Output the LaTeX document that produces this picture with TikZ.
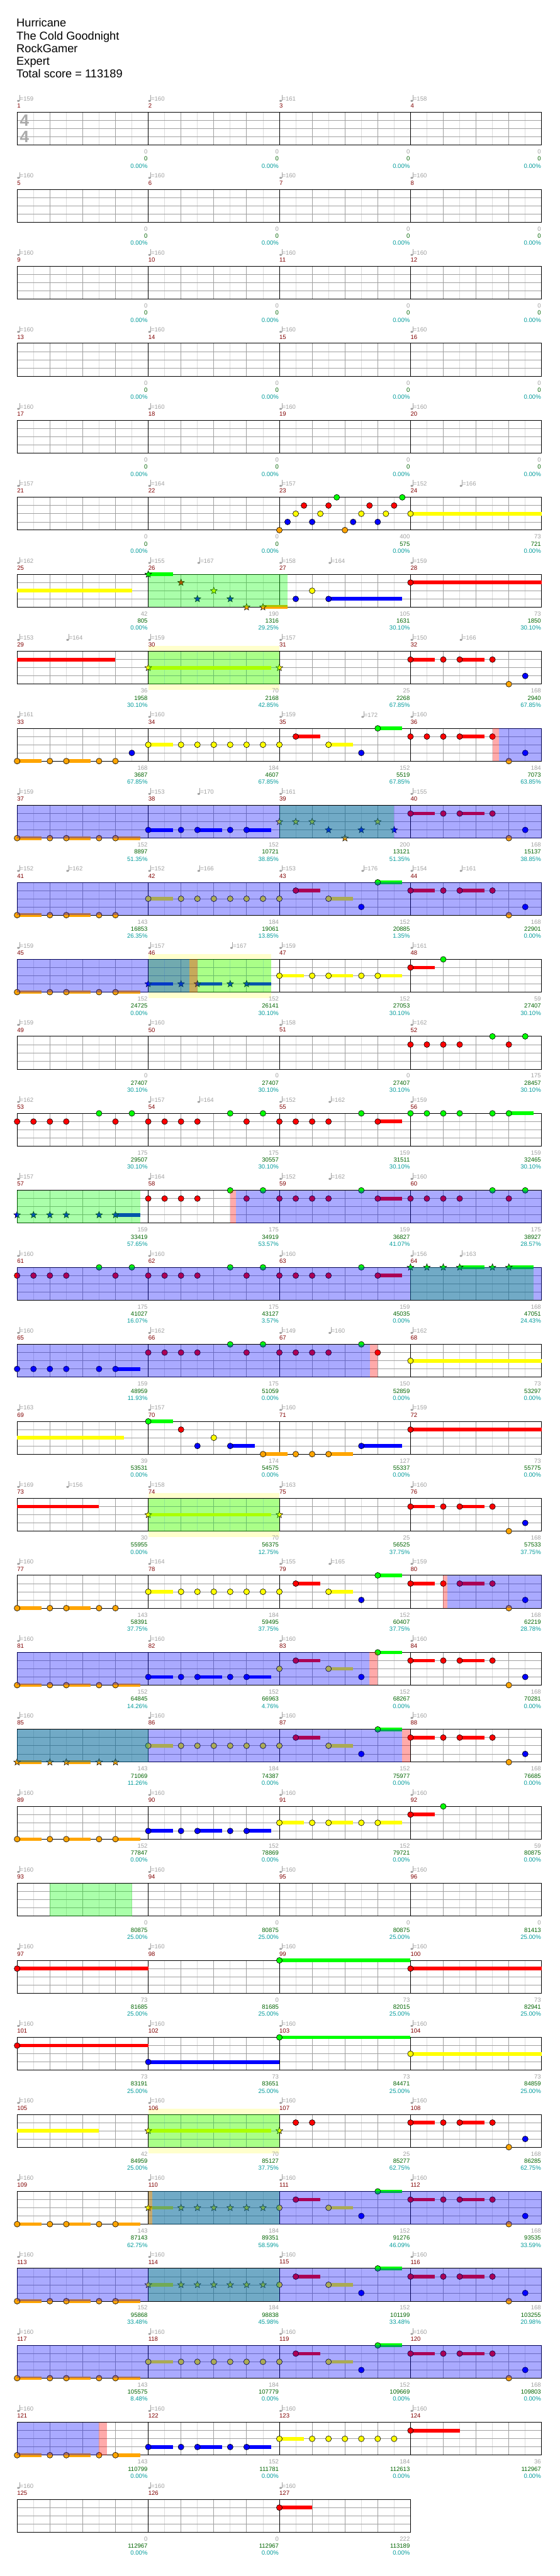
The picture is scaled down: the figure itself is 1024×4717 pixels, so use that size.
\documentclass[tikz,border=0pt]{standalone}
\usepackage{fontspec}
\setmainfont{Liberation Sans}
\usetikzlibrary{shapes.geometric}
\definecolor{lane0}{RGB}{0,255,0}
\definecolor{lane1}{RGB}{255,0,0}
\definecolor{lane2}{RGB}{255,255,0}
\definecolor{lane3}{RGB}{0,0,255}
\definecolor{lane4}{RGB}{255,165,0}
\definecolor{gridd}{RGB}{160,160,160}
\definecolor{gridl}{RGB}{220,220,220}
\definecolor{mnumc}{RGB}{128,0,0}
\definecolor{tempoc}{RGB}{160,160,160}
\definecolor{scorec}{RGB}{0,100,0}
\definecolor{pctc}{RGB}{0,155,155}
\definecolor{bandc}{RGB}{255,255,204}
\definecolor{tsig}{RGB}{170,170,170}
\tikzset{
  labst/.style={font=\fontsize{11}{11}\selectfont,inner sep=0pt,anchor=east},
  notec/.style={draw=black,line width=0.7},
  starn/.style={star,star points=5,star point ratio=2.3,minimum size=13pt,inner sep=0pt,draw=black,line width=0.6},
  titlest/.style={font=\fontsize{21}{21}\selectfont,inner sep=0pt,anchor=base west}
}
\newcommand\MXY[3]{%
  \pgfmathtruncatemacro\mrow{(#1-1)/4}%
  \pgfmathtruncatemacro\mcol{#1-1-4*\mrow}%
  \pgfmathsetmacro\nx{31.3+240*\mcol+15*(#2)}%
  \pgfmathsetmacro\ny{205.7+141*\mrow+15*(#3)}}
\newcommand\nt[3]{\MXY{#1}{#2}{#3}\draw[notec,fill=lane#3] (\nx,\ny) circle[radius=5.3pt];}
\newcommand\st[3]{\MXY{#1}{#2}{#3}\node[starn,fill=lane#3] at (\nx,\ny) {};}
\newcommand\su[4]{\MXY{#1}{#2}{#4}\pgfmathsetmacro\nxx{\nx+15*((#3)-(#2))}\fill[lane#4] (\nx,\ny-3.3) rectangle (\nxx,\ny+3.3);}
\newcommand\ov[4]{\MXY{#2}{#3}{0}\pgfmathsetmacro\nxx{\nx+15*((#4)-(#3))}\fill[#1,fill opacity=0.333] (\nx,\ny) rectangle (\nxx,\ny+60);}
\newcommand\yb[3]{\MXY{#1}{#2}{0}\pgfmathsetmacro\nxx{\nx+15*((#3)-(#2))}\fill[bandc] (\nx,\ny-10) rectangle (\nxx,\ny+71);}
\newcommand\tmark[3]{%
  \fill[tempoc] (#1+2.4,#2-21) ellipse (2.4 and 1.8);
  \draw[tempoc,line width=0.7] (#1+4.4,#2-21) -- (#1+4.4,#2-31.5);
  \node[labst,anchor=west,text=tempoc] at (#1+5,#2-24.7) {=#3};}
\newcommand\tp[3]{\MXY{#1}{#2}{0}\tmark{\nx}{\ny}{#3}}
\newcommand\lab[5]{%
  \MXY{#1}{0}{0}%
  \node[labst,anchor=west,text=mnumc] at (\nx,\ny-11.7) {#1};%
  \tmark{\nx}{\ny}{#2}%
  \pgfmathsetmacro\nxx{\nx+239}%
  \node[labst,text=tempoc] at (\nxx,\ny+72.3) {#3};%
  \node[labst,text=scorec] at (\nxx,\ny+85.3) {#4};%
  \node[labst,text=pctc] at (\nxx,\ny+98.3) {#5};}
% patterns
\newcommand\patA[2]{\su{#1}{0}{3}{#2}\nt{#1}{0}{#2}\nt{#1}{4}{#2}\su{#1}{6}{9}{#2}\nt{#1}{6}{#2}\nt{#1}{10}{#2}\nt{#1}{12}{#2}}
\newcommand\patAs[2]{\su{#1}{0}{3}{#2}\st{#1}{0}{#2}\st{#1}{4}{#2}\su{#1}{6}{9}{#2}\st{#1}{6}{#2}\st{#1}{10}{#2}\st{#1}{12}{#2}}
\newcommand\patB[2]{\su{#1}{0}{3}{#2}\nt{#1}{0}{#2}\nt{#1}{4}{#2}\nt{#1}{6}{#2}\nt{#1}{8}{#2}\nt{#1}{10}{#2}\nt{#1}{12}{#2}\nt{#1}{14}{#2}}
\newcommand\patBs[2]{\su{#1}{0}{3}{#2}\st{#1}{0}{#2}\st{#1}{4}{#2}\st{#1}{6}{#2}\st{#1}{8}{#2}\st{#1}{10}{#2}\st{#1}{12}{#2}\st{#1}{14}{#2}}
\newcommand\patC[1]{\nt{#1}{0}{2}\su{#1}{2}{5}{1}\nt{#1}{2}{1}\su{#1}{6}{9}{2}\nt{#1}{6}{2}\nt{#1}{10}{3}\su{#1}{12}{15}{0}\nt{#1}{12}{0}}
\newcommand\patD[1]{\su{#1}{0}{3}{1}\nt{#1}{0}{1}\nt{#1}{4}{1}\su{#1}{6}{9}{1}\nt{#1}{6}{1}\nt{#1}{10}{1}\nt{#1}{12}{4}\nt{#1}{14}{3}}
\newcommand\patE[1]{\nt{#1}{0}{1}\nt{#1}{2}{1}\nt{#1}{4}{1}\nt{#1}{6}{1}\nt{#1}{10}{0}\nt{#1}{12}{1}\nt{#1}{14}{0}}
\newcommand\patF[1]{\nt{#1}{0}{1}\nt{#1}{2}{1}\nt{#1}{4}{1}\nt{#1}{6}{1}\nt{#1}{10}{0}\su{#1}{12}{15}{1}\nt{#1}{12}{1}}
\begin{document}
\begin{tikzpicture}[x=1pt,y=-1pt]
\fill[white] (0,0) rectangle (1024,4717);
\useasboundingbox (0,0) rectangle (1024,4717);
% title
\node[titlest] (t1) at (30,49.3) {Hurricane};
\node[titlest] (t2) at (30,72.7) {The Cold Goodnight};
\node[titlest] (t3) at (30,96) {RockGamer};
\node[titlest] (t4) at (30,119.3) {Expert};
\node[titlest] (t5) at (30,142.7) {Total score = 113189};
% yellow bands (behind)
\yb{30}{0}{16}\yb{46}{0}{15}\yb{74}{0}{16}\yb{106}{0}{16}
% grid
\foreach \r in {0,...,31}{%
  \pgfmathsetmacro\rowT{205.7+141*\r}%
  \pgfmathtruncatemacro\nseg{\r==31 ? 24 : 32}%
  \pgfmathsetmacro\rowW{30*\nseg}%
  \pgfmathtruncatemacro\nsegm{\nseg-1}%
  \foreach \k in {1,3,...,\nsegm} {\draw[gridl,line width=0.9] (31.3+30*\k,\rowT) -- ++(0,60);}
  \foreach \yy in {15,30,45} {\draw[gridd,line width=0.9] (31.3,\rowT+\yy) -- ++(\rowW,0);}
  \foreach \k in {2,4,...,\nsegm} {\draw[gridd,line width=0.9] (31.3+30*\k,\rowT) -- ++(0,60);}
  \foreach \k in {8,16,24} {\ifnum\k<\nseg\relax\draw[black,line width=0.9] (31.3+30*\k,\rowT) -- ++(0,60);\fi}
  \draw[black,line width=1.1] (31.3,\rowT) rectangle ++(\rowW,60);
}
% time signature
\node[font=\fontsize{30}{30}\selectfont\bfseries,text=tsig,inner sep=0pt] (ts1) at (44.7,220.5) {4};
\node[font=\fontsize{30}{30}\selectfont\bfseries,text=tsig,inner sep=0pt] (ts2) at (44.7,250.2) {4};
% notes
\nt{23}{0}{4}\nt{23}{1}{3}\nt{23}{2}{2}\nt{23}{3}{1}\nt{23}{4}{3}\nt{23}{5}{2}\nt{23}{6}{1}\nt{23}{7}{0}\nt{23}{8}{4}\nt{23}{9}{3}\nt{23}{10}{2}\nt{23}{11}{1}\nt{23}{12}{3}\nt{23}{13}{2}\nt{23}{14}{1}\nt{23}{15}{0}
\su{24}{0}{16}{2}\nt{24}{0}{2}
\su{25}{0}{14}{2}
\su{26}{0}{3}{0}\st{26}{0}{0}\st{26}{4}{1}\st{26}{6}{3}\st{26}{8}{2}\st{26}{10}{3}\st{26}{12}{4}\su{26}{14}{17}{4}\st{26}{14}{4}
\nt{27}{2}{3}\nt{27}{4}{2}\su{27}{6}{15}{3}\nt{27}{6}{3}
\su{28}{0}{16}{1}\nt{28}{0}{1}
\su{29}{0}{12}{1}
\su{30}{0}{15}{2}\st{30}{0}{2}\st{31}{0}{2}
\patD{32}
\patA{33}{4}\nt{33}{14}{3}
\patB{34}{2}
\patC{35}
\nt{36}{0}{1}\nt{36}{2}{1}\nt{36}{4}{1}\su{36}{6}{9}{1}\nt{36}{6}{1}\nt{36}{10}{1}\nt{36}{12}{4}\nt{36}{14}{3}
\su{37}{12}{15}{4}\patA{37}{4}
\su{38}{12}{15}{3}\patA{38}{3}
\st{39}{0}{2}\st{39}{2}{2}\st{39}{4}{2}\st{39}{6}{3}\st{39}{8}{4}\st{39}{10}{3}\st{39}{12}{2}\st{39}{14}{3}
\patD{40}
\patA{41}{4}
\patB{42}{2}
\patC{43}
\patD{44}
\su{45}{12}{15}{4}\patA{45}{4}
\su{46}{0}{3}{3}\st{46}{0}{3}\st{46}{4}{3}\su{46}{6}{9}{3}\st{46}{6}{3}\st{46}{10}{3}\su{46}{12}{15}{3}\st{46}{12}{3}
\su{47}{12}{15}{2}\patA{47}{2}
\su{48}{0}{3}{1}\nt{48}{0}{1}\nt{48}{4}{0}
\patE{52}\patE{53}\patE{54}\patF{55}
\nt{56}{0}{0}\nt{56}{2}{0}\nt{56}{4}{0}\nt{56}{6}{0}\nt{56}{10}{0}\su{56}{12}{15}{0}\nt{56}{12}{0}
\st{57}{0}{3}\st{57}{2}{3}\st{57}{4}{3}\st{57}{6}{3}\st{57}{10}{3}\su{57}{12}{15}{3}\st{57}{12}{3}
\patE{58}\patF{59}\patE{60}\patE{61}\patE{62}\patF{63}
\st{64}{0}{0}\st{64}{2}{0}\st{64}{4}{0}\su{64}{6}{9}{0}\st{64}{6}{0}\st{64}{10}{0}\su{64}{12}{15}{0}\st{64}{12}{0}
\nt{65}{0}{3}\nt{65}{2}{3}\nt{65}{4}{3}\nt{65}{6}{3}\nt{65}{10}{3}\su{65}{12}{15}{3}\nt{65}{12}{3}
\patE{66}
\nt{67}{0}{1}\nt{67}{2}{1}\nt{67}{4}{1}\nt{67}{6}{1}\nt{67}{10}{0}\nt{67}{12}{1}
\su{68}{0}{16}{2}\nt{68}{0}{2}
\su{69}{0}{13}{2}
\su{70}{0}{3}{0}\nt{70}{0}{0}\nt{70}{4}{1}\nt{70}{6}{3}\nt{70}{8}{2}\su{70}{10}{13}{3}\nt{70}{10}{3}\su{70}{14}{17}{4}\nt{70}{14}{4}
\nt{71}{2}{4}\nt{71}{4}{4}\su{71}{6}{9}{4}\nt{71}{6}{4}\su{71}{10}{15}{3}\nt{71}{10}{3}
\su{72}{0}{16}{1}\nt{72}{0}{1}
\su{73}{0}{10}{1}
\su{74}{0}{15}{2}\st{74}{0}{2}\st{75}{0}{2}
\patD{76}\patA{77}{4}\patB{78}{2}\patC{79}\patD{80}
% rows 21-32
\su{81}{12}{15}{4}\patA{81}{4}
\su{82}{12}{15}{3}\patA{82}{3}
\patC{83}\patD{84}
\patAs{85}{4}\patB{86}{2}\patC{87}\patD{88}
\su{89}{12}{15}{4}\patA{89}{4}
\su{90}{12}{15}{3}\patA{90}{3}
\su{91}{12}{15}{2}\patA{91}{2}
\su{92}{0}{3}{1}\nt{92}{0}{1}\nt{92}{4}{0}
\su{97}{0}{16}{1}\nt{97}{0}{1}
\su{99}{0}{16}{0}\nt{99}{0}{0}\su{100}{0}{16}{1}\nt{100}{0}{1}
\su{101}{0}{16}{1}\nt{101}{0}{1}\su{102}{0}{16}{3}\nt{102}{0}{3}\su{103}{0}{16}{0}\nt{103}{0}{0}\su{104}{0}{16}{2}\nt{104}{0}{2}
\su{105}{0}{10}{2}
\su{106}{0}{15}{2}\st{106}{0}{2}\st{107}{0}{2}
\nt{107}{2}{1}\nt{107}{4}{1}
\patD{108}
\su{109}{12}{15}{4}\patA{109}{4}
\patBs{110}{2}\patC{111}\patD{112}
\su{113}{12}{15}{4}\patA{113}{4}\patBs{114}{2}\patC{115}\patD{116}
\su{117}{12}{15}{4}\patA{117}{4}\patB{118}{2}\patC{119}\patD{120}
\su{121}{12}{15}{4}\patA{121}{4}
\su{122}{12}{15}{3}\patA{122}{3}
\patB{123}{2}
\su{124}{0}{6}{1}\nt{124}{0}{1}
\su{127}{0}{4}{1}\nt{127}{0}{1}
% overlays: star phrases (green), star power (blue), red
\ov{lane0}{26}{0}{17}\ov{lane0}{30}{0}{16}\ov{lane0}{39}{0}{14}\ov{lane0}{46}{0}{15}
\ov{lane0}{57}{0}{15}\ov{lane0}{64}{0}{15}\ov{lane0}{74}{0}{16}
\ov{lane0}{85}{0}{16}\ov{lane0}{93}{4}{14}\ov{lane0}{106}{0}{16}\ov{lane0}{110}{0}{16}\ov{lane0}{114}{0}{16}
\ov{lane3}{36}{10.83}{16}\ov{lane3}{37}{0}{64}\ov{lane3}{41}{0}{64}\ov{lane3}{45}{0}{21}
\ov{lane3}{58}{10.7}{48}\ov{lane3}{61}{0}{64}\ov{lane3}{65}{0}{43.06}\ov{lane3}{80}{4.5}{16}
\ov{lane3}{81}{0}{43}\ov{lane3}{85}{0}{47}
\ov{lane3}{110}{0.5}{48}\ov{lane3}{113}{0}{64}\ov{lane3}{117}{0}{64}\ov{lane3}{121}{0}{10}
\ov{lane1}{36}{10}{10.83}\ov{lane1}{46}{5}{6}\ov{lane1}{58}{10}{10.7}\ov{lane1}{67}{11.06}{12}\ov{lane1}{80}{4}{4.5}
\ov{lane1}{83}{11}{12}\ov{lane1}{87}{15}{16}\ov{lane1}{110}{0}{0.5}\ov{lane1}{121}{10}{11}
% labels
\lab{1}{159}{0}{0}{0.00\%}\lab{2}{160}{0}{0}{0.00\%}\lab{3}{161}{0}{0}{0.00\%}\lab{4}{158}{0}{0}{0.00\%}
\foreach \m in {5,...,20}{\lab{\m}{160}{0}{0}{0.00\%}}
\lab{21}{157}{0}{0}{0.00\%}\lab{22}{164}{0}{0}{0.00\%}\lab{23}{157}{400}{575}{0.00\%}\lab{24}{152}{73}{721}{0.00\%}\tp{24}{6}{166}
\lab{25}{162}{42}{805}{0.00\%}\lab{26}{155}{190}{1316}{29.25\%}\tp{26}{6}{167}\lab{27}{158}{105}{1631}{30.10\%}\tp{27}{6}{164}\lab{28}{159}{73}{1850}{30.10\%}
\lab{29}{153}{36}{1958}{30.10\%}\tp{29}{6}{164}\lab{30}{159}{70}{2168}{42.85\%}\lab{31}{157}{25}{2268}{67.85\%}\lab{32}{150}{168}{2940}{67.85\%}\tp{32}{6}{166}
\lab{33}{161}{168}{3687}{67.85\%}\lab{34}{160}{184}{4607}{67.85\%}\lab{35}{159}{152}{5519}{67.85\%}\tp{35}{10}{172}\lab{36}{160}{184}{7073}{63.85\%}
\lab{37}{159}{152}{8897}{51.35\%}\lab{38}{153}{152}{10721}{38.85\%}\tp{38}{6}{170}\lab{39}{161}{200}{13121}{51.35\%}\lab{40}{155}{168}{15137}{38.85\%}
\lab{41}{152}{143}{16853}{26.35\%}\tp{41}{6}{162}\lab{42}{152}{184}{19061}{13.85\%}\tp{42}{6}{166}\lab{43}{153}{152}{20885}{1.35\%}\tp{43}{10}{176}\lab{44}{154}{168}{22901}{0.00\%}\tp{44}{6}{161}
\lab{45}{159}{152}{24725}{0.00\%}\lab{46}{157}{152}{26141}{30.10\%}\tp{46}{10}{167}\lab{47}{159}{152}{27053}{30.10\%}\lab{48}{161}{59}{27407}{30.10\%}
\lab{49}{159}{0}{27407}{30.10\%}\lab{50}{160}{0}{27407}{30.10\%}\lab{51}{158}{0}{27407}{30.10\%}\lab{52}{162}{175}{28457}{30.10\%}
\lab{53}{162}{175}{29507}{30.10\%}\lab{54}{157}{175}{30557}{30.10\%}\tp{54}{6}{164}\lab{55}{152}{159}{31511}{30.10\%}\tp{55}{6}{162}\lab{56}{159}{159}{32465}{30.10\%}
\lab{57}{157}{159}{33419}{57.65\%}\lab{58}{164}{175}{34919}{53.57\%}\lab{59}{152}{159}{36827}{41.07\%}\tp{59}{6}{162}\lab{60}{160}{175}{38927}{28.57\%}
\lab{61}{160}{175}{41027}{16.07\%}\lab{62}{160}{175}{43127}{3.57\%}\lab{63}{160}{159}{45035}{0.00\%}\lab{64}{156}{168}{47051}{24.43\%}\tp{64}{6}{163}
\lab{65}{160}{159}{48959}{11.93\%}\lab{66}{162}{175}{51059}{0.00\%}\lab{67}{149}{150}{52859}{0.00\%}\tp{67}{6}{160}\lab{68}{162}{73}{53297}{0.00\%}
\lab{69}{163}{39}{53531}{0.00\%}\lab{70}{157}{174}{54575}{0.00\%}\lab{71}{160}{127}{55337}{0.00\%}\lab{72}{159}{73}{55775}{0.00\%}
\lab{73}{169}{30}{55955}{0.00\%}\tp{73}{6}{156}\lab{74}{158}{70}{56375}{12.75\%}\lab{75}{163}{25}{56525}{37.75\%}\lab{76}{160}{168}{57533}{37.75\%}
\lab{77}{160}{143}{58391}{37.75\%}\lab{78}{164}{184}{59495}{37.75\%}\lab{79}{155}{152}{60407}{37.75\%}\tp{79}{6}{165}\lab{80}{159}{168}{62219}{28.78\%}
\lab{81}{160}{152}{64845}{14.26\%}\lab{82}{160}{152}{66963}{4.76\%}\lab{83}{160}{152}{68267}{0.00\%}\lab{84}{160}{168}{70281}{0.00\%}
\lab{85}{160}{143}{71069}{11.26\%}\lab{86}{160}{184}{74387}{0.00\%}\lab{87}{160}{152}{75977}{0.00\%}\lab{88}{160}{168}{76685}{0.00\%}
\lab{89}{160}{152}{77847}{0.00\%}\lab{90}{160}{152}{78869}{0.00\%}\lab{91}{160}{152}{79721}{0.00\%}\lab{92}{160}{59}{80875}{0.00\%}
\lab{93}{160}{0}{80875}{25.00\%}\lab{94}{160}{0}{80875}{25.00\%}\lab{95}{160}{0}{80875}{25.00\%}\lab{96}{160}{0}{81413}{25.00\%}
\lab{97}{160}{73}{81685}{25.00\%}\lab{98}{160}{0}{81685}{25.00\%}\lab{99}{160}{73}{82015}{25.00\%}\lab{100}{160}{73}{82941}{25.00\%}
\lab{101}{160}{73}{83191}{25.00\%}\lab{102}{160}{73}{83651}{25.00\%}\lab{103}{160}{73}{84471}{25.00\%}\lab{104}{160}{73}{84859}{25.00\%}
\lab{105}{160}{42}{84959}{25.00\%}\lab{106}{160}{70}{85127}{37.75\%}\lab{107}{160}{25}{85277}{62.75\%}\lab{108}{160}{168}{86285}{62.75\%}
\lab{109}{160}{143}{87143}{62.75\%}\lab{110}{160}{184}{89351}{58.59\%}\lab{111}{160}{152}{91276}{46.09\%}\lab{112}{160}{168}{93535}{33.59\%}
\lab{113}{160}{152}{95868}{33.48\%}\lab{114}{160}{184}{98838}{45.98\%}\lab{115}{160}{152}{101199}{33.48\%}\lab{116}{160}{168}{103255}{20.98\%}
\lab{117}{160}{143}{105575}{8.48\%}\lab{118}{160}{184}{107779}{0.00\%}\lab{119}{160}{152}{109669}{0.00\%}\lab{120}{160}{168}{109803}{0.00\%}
\lab{121}{160}{143}{110799}{0.00\%}\lab{122}{160}{152}{111781}{0.00\%}\lab{123}{160}{184}{112613}{0.00\%}\lab{124}{160}{36}{112967}{0.00\%}
\lab{125}{160}{0}{112967}{0.00\%}\lab{126}{160}{0}{112967}{0.00\%}\lab{127}{160}{222}{113189}{0.00\%}
\end{tikzpicture}
\end{document}
